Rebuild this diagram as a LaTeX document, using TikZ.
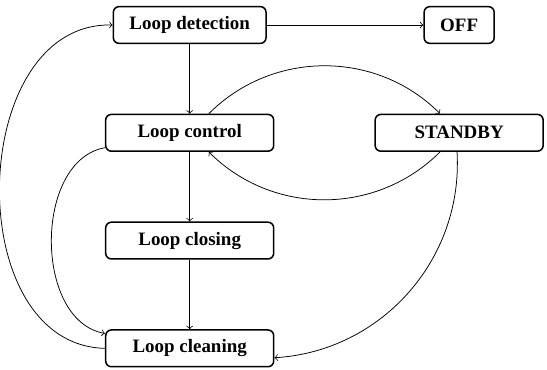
\documentclass[tikz,border=0pt]{standalone}
\usepackage{fontspec}
\setmainfont{Liberation Serif}
\usetikzlibrary{arrows}
\tikzset{
  mode/.style={draw, thick, rounded corners=3pt, inner xsep=8.5pt, minimum height=19.4pt, font=\bfseries},
  widemode/.style={mode, minimum width=88.7pt}
}
\begin{document}
\begin{tikzpicture}
\useasboundingbox (-3.52,0.464) rectangle (6.63,-6.40);
%\draw[help lines] (-3.5,-6.4) grid (6.6,0.4);
\node[mode] (detect) at (0,0) {Loop detection};
\node[mode] (off) at (5,0) {OFF};
\node[widemode] (control) at (0,-2) {Loop control};
\node[widemode] (standby) at (5,-2) {STANDBY};
\node[widemode] (closing) at (0,-4) {Loop closing};
\node[widemode] (cleaning) at (0,-6) {Loop cleaning};
\draw[->] (detect) -- (off);
\draw[->] (detect) -- (control);
\draw[->] (control) -- (closing);
\draw[->] (closing) -- (cleaning);
\draw[->] (control) to[bend left=45] (standby);
\draw[->] (standby) to[bend left=45] (control);
\draw[->] (control) to[bend right=80] (cleaning);
\draw[->] (cleaning) to[bend left=90, looseness=1.15] (detect);
\draw[->] (standby) to[bend left=45] (cleaning);
\end{tikzpicture}
\end{document}
